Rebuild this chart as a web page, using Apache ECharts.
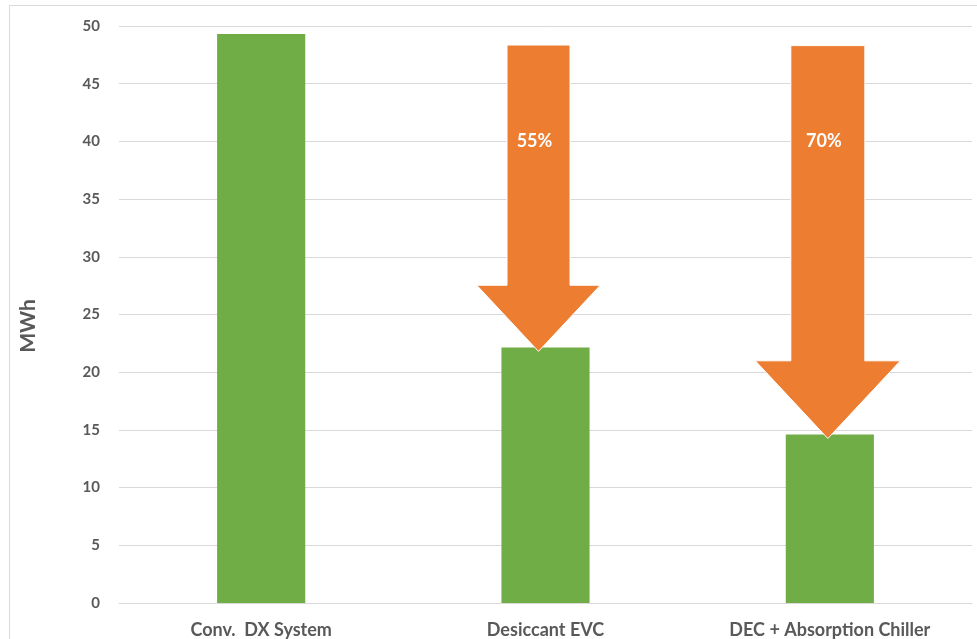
<!DOCTYPE html>
<html>
<head>
<meta charset="utf-8">
<script src="https://cdn.jsdelivr.net/npm/echarts@6/dist/echarts.min.js"></script>
<style>
  html, body { margin: 0; padding: 0; background: #fff; }
  #main { width: 977px; height: 639px; }
</style>
</head>
<body>
<div id="main"></div>
<script>
// chart values
var categories = ['Conv.  DX System', 'Desiccant EVC', 'DEC + Absorption Chiller'];
var energyMWh = [49.3, 22.15, 14.6];
var yRange = [0, 50, 5]; // min, max, step
var yTitle = 'MWh';

// savings arrows (drawn from the top line down to the bar value)
var savingIndex = [1, 2];
var savingFrom = [48.35, 48.3];
var savingLabels = ['55%', '70%'];

// arrow looks (px)
var arrowLook = [
  { shaft: 63, dx: -7 },
  { shaft: 74, dx: -2 }
];

var font = 'Lato, "Open Sans", sans-serif';
var grey = '#595959';

var arrowData = savingIndex.map(function (c, i) {
  return [c, savingFrom[i], energyMWh[c], i];
});

var chart = echarts.init(document.getElementById('main'));

chart.setOption({
  animation: false,
  graphic: [{
    type: 'rect',
    shape: { x: 9.5, y: 5.5, width: 1000, height: 1000 },
    style: { fill: 'none', stroke: '#d9d9d9', lineWidth: 1 },
    silent: true
  }, {
    // y axis title
    type: 'text',
    x: 28,
    y: 326,
    rotation: Math.PI / 2,
    style: {
      text: yTitle,
      fill: grey,
      font: 'bold 21px ' + font,
      align: 'center',
      verticalAlign: 'middle'
    },
    silent: true
  }],
  grid: { left: 119, right: 5, top: 26, bottom: 36 },
  xAxis: {
    type: 'category',
    data: categories,
    axisTick: { show: false },
    axisLine: { lineStyle: { color: '#d9d9d9' } },
    axisLabel: { color: grey, fontFamily: font, fontWeight: 'bold', fontSize: 18, margin: 18 }
  },
  yAxis: {
    type: 'value',
    min: yRange[0],
    max: yRange[1],
    interval: yRange[2],
    axisLine: { show: false },
    axisTick: { show: false },
    axisLabel: { color: grey, fontFamily: font, fontWeight: 'bold', fontSize: 15, margin: 19 },
    splitLine: { lineStyle: { color: '#d9d9d9', width: 1 } }
  },
  series: [{
    type: 'bar',
    data: energyMWh,
    barWidth: '31%',
    itemStyle: { color: '#70ad47' },
    z: 2
  }, {
    type: 'custom',
    data: arrowData,
    z: 5,
    renderItem: function (params, api) {
      var look = arrowLook[api.value(3)];
      var top = api.coord([api.value(0), api.value(1)]);
      var tip = api.coord([api.value(0), api.value(2)]);
      var cx = top[0] + look.dx;
      var sw = look.shaft / 2;
      var hw = look.shaft * 0.98;
      var hl = look.shaft * 1.05;
      var tipY = tip[1] + 4;
      var headTop = tipY - hl;
      return {
        type: 'group',
        children: [{
          type: 'polygon',
          shape: {
            points: [
              [cx - sw, top[1]], [cx + sw, top[1]], [cx + sw, headTop],
              [cx + hw, headTop], [cx, tipY], [cx - hw, headTop], [cx - sw, headTop]
            ]
          },
          style: { fill: '#ed7d31', stroke: '#ffffff', lineWidth: 1 }
        }, {
          type: 'text',
          x: cx - 4,
          y: top[1] + 96,
          style: {
            text: savingLabels[api.value(3)],
            fill: '#ffffff',
            font: 'bold 18px ' + font,
            align: 'center',
            verticalAlign: 'middle'
          }
        }]
      };
    }
  }]
});
</script>
</body>
</html>
